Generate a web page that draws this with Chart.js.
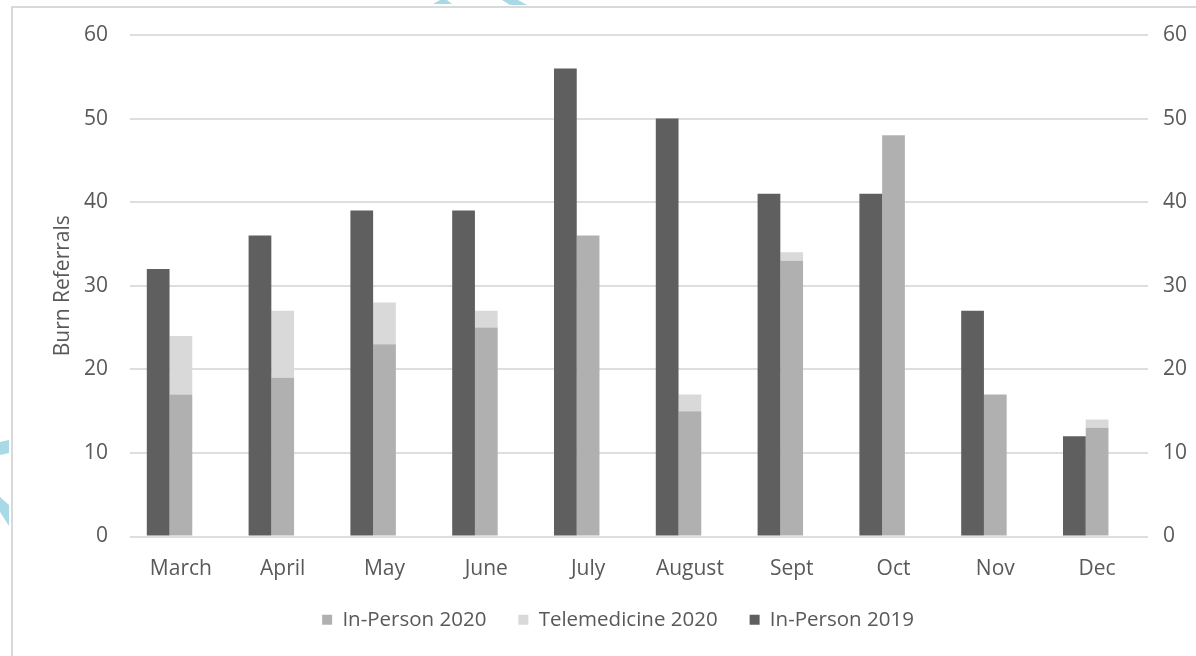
<!DOCTYPE html>
<html>
<head>
<meta charset="utf-8">
<script src="https://cdn.jsdelivr.net/npm/chart.js@4.4.1/dist/chart.umd.min.js"></script>
<style>
  html, body { margin: 0; padding: 0; background: #fff; }
  #wrap { position: relative; width: 1196px; height: 656px; }
</style>
</head>
<body>
<div id="wrap"><canvas id="referrals"></canvas></div>
<script>
/* burn referrals by month — 2019 vs 2020 (in-person + telemedicine) */

const months         = ['March', 'April', 'May', 'June', 'July', 'August', 'Sept', 'Oct', 'Nov', 'Dec'];
const inPerson2019   = [32, 36, 39, 39, 56, 50, 41, 41, 27, 12];
const inPerson2020   = [17, 19, 23, 25, 36, 15, 33, 48, 17, 13];
const telemed2020    = [7, 8, 5, 2, 0, 2, 1, 0, 0, 1];
const yTicks         = [0, 10, 20, 30, 40, 50, 60];

const FONT = "'Open Sans', 'DejaVu Sans', sans-serif";
const FS = 21;
const TEXT = '#595959';
const GRID = '#dedede';
const DARK = '#5f5f5f';
const MID  = '#b0b0b0';
const LIGHT = '#d9d9d9';

// light frame + the cropped blue marks along the edges
const backdrop = {
  id: 'backdrop',
  beforeDraw(chart) {
    const c = chart.ctx;
    c.save();
    c.fillStyle = '#a9d8e6';
    c.beginPath(); c.moveTo(440, 0); c.lineTo(447, 0); c.lineTo(452, 4); c.lineTo(433, 4); c.closePath(); c.fill();
    c.beginPath(); c.moveTo(502, 0); c.lineTo(518, 0); c.lineTo(527, 5); c.lineTo(510, 5); c.closePath(); c.fill();
    c.beginPath(); c.moveTo(0, 442); c.lineTo(9, 440); c.lineTo(9, 453); c.lineTo(0, 455); c.closePath(); c.fill();
    c.beginPath(); c.moveTo(0, 497); c.lineTo(9, 505); c.lineTo(9, 526); c.lineTo(0, 512); c.closePath(); c.fill();
    c.strokeStyle = '#d9d9d9';
    c.lineWidth = 2;
    c.beginPath(); c.moveTo(12, 656); c.lineTo(12, 7); c.lineTo(1196, 7); c.stroke();
    c.restore();
  }
};

// legend sits closer to the month labels than its padding allows
const legendNudge = {
  id: 'legendNudge',
  afterLayout(chart) {
    chart.legend.top -= 16;
    chart.legend.bottom -= 16;
  }
};

const legendOrder = { 'In-Person 2020': 0, 'Telemedicine 2020': 1, 'In-Person 2019': 2 };

new Chart(document.getElementById('referrals'), {
  type: 'bar',
  data: {
    labels: months,
    datasets: [
      { label: 'In-Person 2019', data: inPerson2019, backgroundColor: DARK, stack: 'y2019' },
      { label: 'In-Person 2020', data: inPerson2020, backgroundColor: MID, stack: 'y2020' },
      { label: 'Telemedicine 2020', data: telemed2020, backgroundColor: LIGHT, stack: 'y2020' },
      // empty third slot, keeps the pair left of the category centre like the original
      { label: '', data: months.map(() => 0), backgroundColor: 'rgba(0,0,0,0)', stack: 'spacer' }
    ]
  },
  options: {
    responsive: true,
    maintainAspectRatio: false,
    animation: false,
    categoryPercentage: 0.67,
    barPercentage: 1,
    layout: { padding: { left: 40, right: 0, top: 35, bottom: 0 } },
    plugins: {
      tooltip: { enabled: false },
      legend: {
        position: 'bottom',
        maxHeight: 70,
        labels: {
          font: { family: FONT, size: 20.5 },
          color: TEXT,
          boxWidth: 10,
          boxHeight: 10,
          padding: 32,
          filter: item => item.text !== '',
          sort: (a, b) => legendOrder[a.text] - legendOrder[b.text]
        }
      }
    },
    scales: {
      x: {
        stacked: true,
        grid: { display: false },
        border: { display: false },
        ticks: { font: { family: FONT, size: FS }, color: TEXT, padding: 12, maxRotation: 0 },
        afterFit: s => { s.height = 57; }
      },
      y: {
        stacked: true,
        min: 0, max: 60,
        afterBuildTicks: s => { s.ticks = yTicks.map(v => ({ value: v })); },
        grid: { color: GRID, lineWidth: 2, drawTicks: false },
        border: { display: false },
        ticks: { font: { family: FONT, size: FS }, color: TEXT, padding: 22 },
        title: { display: true, text: 'Burn Referrals', font: { family: FONT, size: FS }, color: TEXT, padding: { top: 10, bottom: 0 } },
        afterFit: s => { s.width = 90; }
      },
      y2: {
        position: 'right',
        min: 0, max: 60,
        afterBuildTicks: s => { s.ticks = yTicks.map(v => ({ value: v })); },
        grid: { display: false, drawTicks: false },
        border: { display: false },
        ticks: { font: { family: FONT, size: FS }, color: TEXT, padding: 15 },
        afterFit: s => { s.width = 48; }
      }
    }
  },
  plugins: [backdrop, legendNudge]
});
</script>
</body>
</html>
